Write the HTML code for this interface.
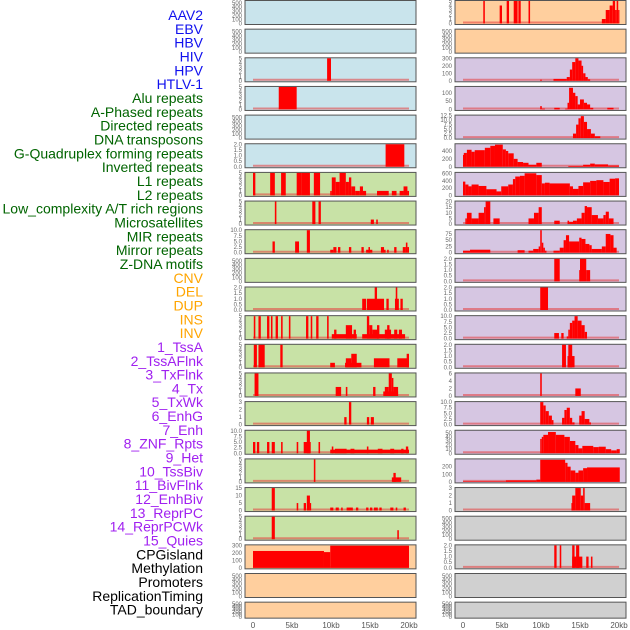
<!DOCTYPE html>
<html><head><meta charset="utf-8"><style>
body{margin:0;background:#fff;width:630px;height:630px;overflow:hidden}
svg{position:absolute;left:0;top:0}
text{font-family:"Liberation Sans",sans-serif}
</style></head><body>
<svg id="chart" width="630" height="630" xmlns="http://www.w3.org/2000/svg"></svg>
<script>
const labels=["AAV2","EBV","HBV","HIV","HPV","HTLV-1","Alu repeats","A-Phased repeats","Directed repeats","DNA transposons","G-Quadruplex forming repeats","Inverted repeats","L1 repeats","L2 repeats","Low_complexity A/T rich regions","Microsatellites","MIR repeats","Mirror repeats","Z-DNA motifs","CNV","DEL","DUP","INS","INV","1_TssA","2_TssAFlnk","3_TxFlnk","4_Tx","5_TxWk","6_EnhG","7_Enh","8_ZNF_Rpts","9_Het","10_TssBiv","11_BivFlnk","12_EnhBiv","13_ReprPC","14_ReprPCWk","15_Quies","CPGisland","Methylation","Promoters","ReplicationTiming","TAD_boundary"];
const labelGroups=[6,13,5,15,5];
const groupColors=["#1010ee","#006400","#ffa500","#a020f0","#000000"];
const xTickLabels=["0","5kb","10kb","15kb","20kb"];
const xTickValues=[0,5,10,15,20];
const E=[0,100,200,300,400,500];
const leftBg=["b","b","b","b","b","b","g","g","g","g","g","g","g","g","g","g","g","g","g","o","o","o"];
const rightBg=["o","o","p","p","p","p","p","p","p","p","p","p","p","p","p","p","p","y","y","y","y","y"];
const leftMax=[550,550,5,5,550,2,5,5,10,550,2,5,5,5,3,10,5,15,5,300,550,550];
const rightMax=[5,550,300,135,12.5,570,620,20,90,2,2,10,2,6,10,55,295,3,550,2,550,550];
const leftTicks=[E,E,[0,1,2,3,4,5],[0,1,2,3,4,5],E,["0.0","0.5","1.0","1.5","2.0"],[0,1,2,3,4,5],[0,1,2,3,4,5],["0.0","2.5","5.0","7.5","10.0"],E,["0.0","0.5","1.0","1.5","2.0"],[0,1,2,3,4,5],[0,1,2,3,4,5],[0,1,2,3,4,5],[0,1,2,3],["0.0","2.5","5.0","7.5","10.0"],[0,1,2,3,4,5],[0,5,10,15],[0,1,2,3,4,5],[0,100,200,300],E,E];
const rightTicks=[[0,1,2,3,4,5],E,[0,100,200,300],[0,50,100],["0.0","2.5","5.0","7.5","10.0","12.5"],[0,200,400],[0,200,400,600],[0,5,10,15,20],[0,25,50,75],["0.0","0.5","1.0","1.5","2.0"],["0.0","0.5","1.0","1.5","2.0"],["0.0","2.5","5.0","7.5","10.0"],["0.0","0.5","1.0","1.5","2.0"],[0,2,4,6],["0.0","2.5","5.0","7.5","10.0"],[0,10,20,30,40,50],[0,100,200],[0,1,2,3],E,["0.0","0.5","1.0","1.5","2.0"],E,E];
const leftBars=[[],[],[[9.5,10,5]],[[3.3,5.6,5]],[],[[17,19.4,2]],
[[0,0.3,5],[2.2,2.8,5],[3.6,4.2,5],[5.6,6.2,5],[6.2,7.3,5],[7.8,8.6,5],[9.9,10.1,1],[10.1,10.6,4],[10.6,11.1,3],[11.1,11.9,5],[11.9,12.3,3],[12.3,12.6,4],[12.6,13.1,2],[13.1,13.7,1],[13.7,14.1,2],[14.1,14.5,1],[15.9,17.4,1],[17.8,18.4,1],[18.8,19.3,1],[19.3,19.8,2],[19.8,20,1]],
[[2.8,3.0,5],[7.6,8.0,5],[8.4,8.7,5],[15.1,15.5,1],[15.8,16.0,1]],
[[2.5,2.8,5],[5.4,5.9,5],[6.9,7.3,10],[9.9,10.3,1.3],[10.3,10.7,2.5],[10.9,11.2,2.5],[12.3,12.6,2.5],[13.9,14.2,2.5],[14.5,15.3,1.3],[14.8,15.0,2.5],[16.4,16.8,2.5],[16.8,17.0,1.3],[17.2,17.4,1.3],[18.1,18.4,2.5],[19.2,19.6,2.5],[19.6,19.8,4.5],[19.8,20,2.5]],
[],
[[14,14.5,1],[14.6,16.8,1],[15.6,15.9,2],[17.1,17.4,1],[18.2,18.7,1],[18.3,18.5,2],[18.9,19.2,1]],
[[0.1,0.3,5],[0.7,1.0,5],[1.8,2.1,5],[2.3,2.5,5],[2.9,3.2,5],[3.6,3.8,5],[4.6,4.8,5],[6.8,7.1,5],[7.4,7.6,5],[8.1,8.4,5],[9.5,9.7,5],[10.1,13.3,1],[10.4,10.7,2],[11.9,12.7,3],[12.9,13.2,2],[14,19.5,1],[14.6,14.9,5],[14.9,15.3,3],[15.3,16.1,2],[15.9,16.2,3],[16.9,17.7,2],[17.2,17.5,3],[18.1,18.5,2],[18.7,19.1,2]],
[[0.1,0.5,5],[0.7,1.5,5],[3.5,3.8,5],[9.9,10.5,1],[11.8,13.9,1],[11.9,12.6,2],[12.6,13.3,3],[15.5,17.5,2],[18.5,20,2],[19.7,20,3]],
[[0.2,0.7,5],[10.6,11.3,2],[11.9,12.1,2],[15.4,15.7,2],[16.7,18.6,1],[16.9,17.4,2],[17.4,17.8,5],[17.8,18.0,4],[18.0,18.6,2]],
[[11.7,12.0,1],[12.3,12.6,3],[14.6,14.9,1],[15.1,15.5,1]],
[[0,0.3,5],[0.5,0.8,5],[1.8,2.1,5],[2.4,2.8,5],[3.6,3.8,5],[5.6,5.8,5],[6.5,7.4,5],[6.9,7.3,10],[8.4,8.6,5],[9.9,20,1.6],[10.1,10.3,3],[10.5,12.0,2],[12.5,13.0,2],[14.6,14.8,3],[16,16.6,2],[17.6,18.1,2],[19.0,19.3,2],[19.6,19.9,3]],
[[7.8,8.0,5],[17.8,19.0,1],[18.0,18.3,2]],
[[2.4,2.8,15],[5.6,5.8,5],[6.5,6.8,5],[6.9,7.3,10],[7.3,7.4,5],[9.9,10.3,2],[10.6,11,2],[11.3,11.5,2],[12.0,12.8,2],[13.2,13.5,2],[14.5,14.8,2],[15.0,15.3,2],[15.5,16.0,2],[16.2,16.5,2],[17.6,18.0,2],[18.3,18.5,2],[19.3,19.6,2]],
[[2.4,2.8,5],[18.5,18.7,2]],
[[0,9.1,225],[9.1,9.9,210],[9.9,20,295]],
[],[]];
const rightBars=[
[[2.6,2.8,5],[4.7,5.0,4],[5.6,5.9,5],[6.5,7.0,5],[7.1,7.4,5],[8.4,8.6,5],[17.8,18.3,1],[18.3,18.8,3],[18.8,19.2,4],[19.2,19.5,5],[19.5,19.7,3],[19.7,19.9,5],[19.9,20,3]],
[],
[[9.9,10.1,15],[11.6,13.3,25],[13.3,13.7,50],[13.7,14.0,150],[14.0,14.4,250],[14.4,14.8,300],[14.8,15.2,270],[15.2,15.4,200],[15.4,15.7,100],[15.7,16.0,50],[16.0,16.3,20]],
[[9.9,10.1,20],[10.1,10.5,5],[11.7,12.4,10],[13.1,13.4,5],[13.4,13.6,40],[13.6,14.1,130],[14.1,14.4,100],[14.4,14.7,80],[14.7,15.0,30],[15.0,15.5,60],[15.5,15.9,40],[15.9,16.3,30],[16.3,16.7,10],[18.5,19.3,10]],
[[14.1,14.5,2.5],[14.5,14.8,7.5],[14.8,15.1,11],[15.1,15.5,12.2],[15.5,15.9,9],[15.9,16.4,5],[16.4,16.9,2.5],[16.9,17.6,1]],
[[0,0.1,300],[0.1,0.5,350],[0.5,1.1,430],[1.1,1.5,380],[1.5,2.8,420],[2.8,3.5,480],[3.5,4.1,530],[4.1,5.1,560],[5.1,5.5,440],[5.5,5.8,400],[5.8,6.5,340],[6.5,7.0,200],[7.0,7.7,120],[7.7,8.4,100],[8.4,9.4,50],[9.4,10.1,100],[13.5,15.4,20],[15.4,16.3,50],[16.3,16.9,80],[16.9,18.6,60],[18.6,20,30]],
[[0,0.3,380],[0.3,0.7,300],[0.7,1.1,250],[1.1,2.0,300],[2.0,3.0,260],[3.0,4.3,170],[4.3,4.9,110],[4.9,5.8,250],[5.8,6.4,300],[6.4,6.7,450],[6.7,7.3,520],[7.3,7.9,540],[7.9,9.4,610],[9.4,10.1,560],[10.1,10.5,330],[10.5,11.1,350],[11.1,13.7,330],[13.7,14.1,250],[14.1,14.8,180],[14.8,15.4,260],[15.4,16.3,360],[16.3,17.1,400],[17.1,18.0,420],[18.0,18.8,370],[18.8,19.5,460],[19.5,20,470]],
[[0.3,0.5,5],[0.5,1.1,10],[1.1,2.0,5],[2.0,2.7,10],[2.7,2.9,15],[2.9,3.5,20],[3.9,4.7,5],[8.4,9.1,5],[9.1,9.7,10],[9.7,10.1,15],[11.7,12.4,3],[13.4,13.6,3],[13.6,14.1,2],[14.1,14.6,3],[14.6,15.2,5],[15.2,15.6,10],[15.6,15.9,16],[15.9,16.5,15],[16.5,17.3,8],[17.3,18.0,5],[18.0,18.3,8],[18.3,18.7,11],[18.7,19.3,5]],
[[0,0.9,8],[0.9,3.5,12],[7.0,7.9,10],[8.4,9.0,8],[9.0,9.7,15],[9.7,9.9,25],[9.9,10.1,90],[10.1,10.3,40],[10.3,10.5,20],[10.5,10.7,8],[11.6,12.4,8],[12.4,12.9,20],[12.9,13.2,50],[13.2,13.6,70],[13.6,14.9,45],[14.9,15.2,60],[15.2,15.7,55],[15.7,16.2,35],[16.2,16.5,30],[16.5,17.8,15],[17.8,18.3,25],[18.3,18.9,75],[18.9,19.3,70],[19.3,19.7,20]],
[[11.7,12.4,2],[14.9,15.0,1],[15.0,15.8,2],[15.8,16.3,1]],
[[9.9,10.9,2]],
[[11.7,12.3,2.5],[12.6,12.9,2.5],[13.3,13.5,1],[13.5,13.7,4],[13.7,14.0,7],[14.0,14.3,8],[14.3,14.7,10],[14.7,15.2,8],[15.2,15.6,6],[15.6,15.9,3]],
[[13.4,14.3,1],[12.7,13.2,2],[13.5,14.0,2]],
[[9.9,10.1,6],[14.4,15.1,2]],
[[9.9,10.3,10],[10.3,10.6,8.5],[10.6,11.0,6],[11.0,11.4,4],[11.4,11.6,2],[12.7,13.0,3],[13.0,13.3,6.5],[13.3,13.7,7.5],[13.7,14.0,3],[14.0,14.3,1],[14.9,15.2,4],[15.2,15.6,6],[15.6,16.2,2.5],[16.2,16.4,1]],
[[9.9,10.1,35],[10.1,10.3,40],[10.3,10.9,45],[10.9,11.9,52],[11.9,13.0,45],[13.0,13.7,40],[13.7,14.4,30],[14.4,14.8,20],[14.8,15.3,12],[15.3,16.7,18],[16.7,17.4,15],[17.4,18.3,16],[18.3,19.0,10],[19.0,19.7,7],[19.7,20.1,10]],
[[0,5.5,7],[5.5,9.4,20],[9.4,9.9,30],[9.9,13.1,290],[13.1,13.4,250],[13.4,13.8,200],[13.8,14.4,150],[14.4,14.8,120],[14.8,15.4,150],[15.4,15.9,180],[15.9,20.1,190]],
[[13.9,14.0,1],[14.0,14.4,2],[14.4,15.1,3],[15.1,15.4,2],[15.4,15.6,3],[15.6,16.3,1]],
[],
[[11.7,12.0,2],[12.4,12.6,2],[14.0,14.5,1],[14.0,14.3,2],[14.5,14.9,2],[14.5,15.3,1],[15.8,16.1,1],[16.4,16.6,1]],
[],[]];

const NS="http://www.w3.org/2000/svg";
const svg=document.getElementById('chart');
const bgCol={b:"#c9e4ec",g:"#c8e2a6",o:"#ffcf9e",p:"#d6c6e2",y:"#d0d0d0"};
function mk(t,a,p){const e=document.createElementNS(NS,t);for(const k in a)e.setAttribute(k,a[k]);(p||svg).appendChild(e);return e;}
// labels
let li=0;
labelGroups.forEach((n,g)=>{for(let j=0;j<n;j++){const t=mk('text',{x:203,y:15+li*13.83+5,'text-anchor':'end','font-size':14,fill:groupColors[g]});t.textContent=labels[li];

li++;}});
function panelTop(i){return i*28.65;}
function panelH(i){return i===21?16:24;}
function drawCol(x0,bgs,maxs,ticks,bars,col){
  const xs=kb=>x0+8+kb*7.8;
  for(let i=0;i<22;i++){
    const top=panelTop(i),h=panelH(i);
    const g=mk('g',{});
    
    
    mk('rect',{x:x0,y:top+0.5,width:171,height:h,fill:bgCol[bgs[i]],stroke:'#555','stroke-width':1},g);
    const y0=top+h-0.5, ys=v=>y0-(v/maxs[i])*(h-1.5);
    const tk=ticks[i];
    tk.forEach(v=>{const t=mk('text',{x:x0-3,y:ys(parseFloat(v))+2,'text-anchor':'end','font-size':6,fill:'#666'},g);t.textContent=v;});
    if(bars[i].length){
      mk('line',{x1:xs(0),x2:xs(20),y1:y0-1,y2:y0-1,stroke:'rgba(230,60,60,0.55)','stroke-width':2},g);
      bars[i].forEach(b=>{const r=mk('rect',{x:xs(b[0]),y:ys(b[2]),width:Math.max(1.2,xs(b[1])-xs(b[0])),height:y0-ys(b[2]),fill:'#ff0000'},g);
      
      });
    }
  }
  xTickValues.forEach((v,k)=>{const t=mk('text',{x:xs(v),y:628,'text-anchor':'middle','font-size':8,fill:'#555'});t.textContent=xTickLabels[k];
  
  });
}
drawCol(245,leftBg,leftMax,leftTicks,leftBars,'left');
drawCol(455,rightBg,rightMax,rightTicks,rightBars,'right');
</script>
</body></html>
